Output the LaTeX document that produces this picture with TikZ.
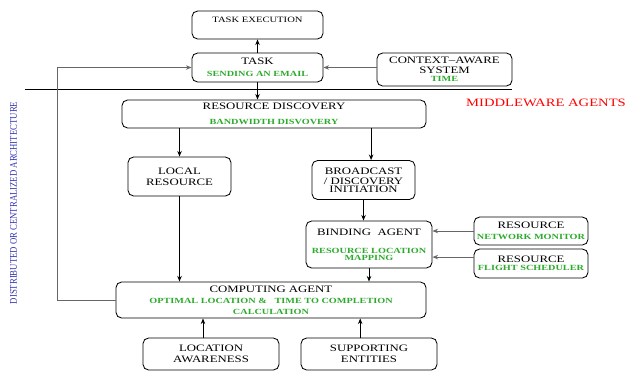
\documentclass[tikz,border=0pt]{standalone}
\usepackage{fontspec}
\setmainfont{Liberation Serif}[FakeStretch=1.3]
\newfontfamily\narrowfont{Liberation Serif}[FakeStretch=0.85]
\usetikzlibrary{arrows.meta}

\definecolor{subgreen}{RGB}{45,170,45}
\definecolor{archblue}{RGB}{50,50,180}
\newcommand{\grn}[1]{{\color{subgreen}\bfseries\fontsize{5.6}{7.8}\selectfont #1}}

\tikzset{
  box/.style={draw, rounded corners=4pt, line width=0.6pt, align=center, inner sep=0pt,
    font=\fontsize{7}{7.8}\selectfont},
  arr/.style={-{Stealth[length=4pt,width=3.2pt]}, line width=0.6pt},
  garr/.style={arr, draw=black!60}
}

\begin{document}
\begin{tikzpicture}[x=0.025cm, y=-0.025cm]
  \useasboundingbox (0,0) rectangle (629,370);

  \node[box, minimum width=3.275cm, minimum height=0.7cm, text height=0.15cm, text depth=0.28cm,
    font=\fontsize{5.8}{7}\selectfont] (exec) at (257.5,25) {TASK EXECUTION};
  \node[box, minimum width=3.275cm, minimum height=0.725cm] (task) at (257.5,67.5)
    {TASK\\[0.7pt]\grn{SENDING AN EMAIL}};
  \node[box, minimum width=3.375cm, minimum height=0.825cm] (ctx) at (444.5,69.5)
    {CONTEXT--AWARE\\[-0.7pt]SYSTEM\\[-2.1pt]\grn{TIME}};
  \node[box, minimum width=7.6cm, minimum height=0.7cm] (disc) at (274,114)
    {RESOURCE DISCOVERY\\[2.9pt]\grn{BANDWIDTH DISVOVERY}};
  \node[box, minimum width=2.575cm, minimum height=0.975cm] (local) at (179.5,176.5)
    {LOCAL\\RESOURCE};
  \node[box, minimum width=2.575cm, minimum height=0.975cm] (bcast) at (363.5,180)
    {BROADCAST\\[-0.7pt]/ DISCOVERY\\[-2.1pt]INITIATION};
  \node[box, minimum width=3.15cm, minimum height=1.175cm] (bind) at (369,244.5)
    {BINDING\ \ AGENT\\[5pt]\grn{RESOURCE LOCATION}\\[-2.8pt]\grn{MAPPING}};
  \node[box, minimum width=2.85cm, minimum height=0.7cm] (netmon) at (531,231)
    {RESOURCE\\\grn{NETWORK MONITOR}};
  \node[box, minimum width=2.85cm, minimum height=0.725cm] (flight) at (531,263.5)
    {RESOURCE\\[-2.1pt]\grn{FLIGHT SCHEDULER}};
  \node[box, minimum width=7.75cm, minimum height=0.9cm] (comp) at (271,300)
    {COMPUTING AGENT\\\grn{OPTIMAL LOCATION \&\ \ \ TIME TO COMPLETION}\\\grn{CALCULATION}};
  \node[box, minimum width=3.4cm, minimum height=0.8cm] (locaw) at (211,354)
    {LOCATION\\AWARENESS};
  \node[box, minimum width=3.4cm, minimum height=0.8cm] (supp) at (369,354)
    {SUPPORTING\\ENTITIES};

  \node[text=red, font=\fontsize{8}{9}\selectfont] (mw) at (546,103) {MIDDLEWARE AGENTS};
  \node[text=archblue, rotate=90, font=\narrowfont\fontsize{7.3}{8}\selectfont] (arch) at (13.5,203)
    {DISTRIBUTED OR CENTRALIZED ARCHITECTURE};

  % layer line
  \coordinate (ll) at (25,89);
  \coordinate (lr) at (512,89);
  \draw[line width=0.6pt] (ll) -- (lr);

  \draw[arr] (task.north) -- (exec.south);
  \draw[garr] (task.east -| ctx.west) -- (task.east);
  \draw[arr] (task.south) -- (task.south |- disc.north);
  \draw[arr] (local.north |- disc.south) -- (local.north);
  \draw[arr] ([xshift=0.19cm]bcast.north |- disc.south) -- ([xshift=0.19cm]bcast.north);
  \draw[arr] (bcast.south) -- (bcast.south |- bind.north);
  \draw[garr] (netmon.west) -- (netmon.west -| bind.east);
  \draw[garr] ([yshift=0.16cm]flight.west) -- ([yshift=0.16cm]flight.west -| bind.east);
  \draw[arr] (local.south) -- (local.south |- comp.north);
  \draw[arr] (bind.south) -- (bind.south |- comp.north);
  \draw[arr] ([xshift=-0.2cm]locaw.north) -- ([xshift=-0.2cm]locaw.north |- comp.south);
  \draw[arr] ([xshift=-0.22cm]supp.north) -- ([xshift=-0.22cm]supp.north |- comp.south);

  % feedback to task
  \coordinate (fb) at (57,300);
  \draw[garr] (comp.west) -- (fb) |- (task.west);
\end{tikzpicture}
\end{document}
